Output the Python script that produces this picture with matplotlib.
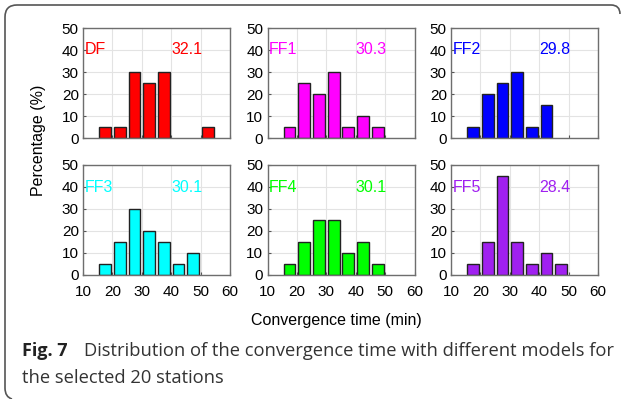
import matplotlib
matplotlib.use("Agg")
import matplotlib.pyplot as plt
from matplotlib.patches import PathPatch
from matplotlib.path import Path
import numpy as np

plt.rcParams["font.family"] = ["Liberation Sans", "DejaVu Sans"]

# ---- data ----
bin_centers = [17.5, 22.5, 27.5, 32.5, 37.5, 42.5, 47.5, 52.5]
models = ["DF", "FF1", "FF2", "FF3", "FF4", "FF5"]
mean_times = ["32.1", "30.3", "29.8", "30.1", "30.1", "28.4"]
df_pct = [5, 5, 30, 25, 30, 0, 0, 5]
ff1_pct = [5, 25, 20, 30, 5, 10, 5, 0]
ff2_pct = [5, 20, 25, 30, 5, 15, 0, 0]
ff3_pct = [5, 15, 30, 20, 15, 5, 10, 0]
ff4_pct = [5, 15, 25, 25, 10, 15, 5, 0]
ff5_pct = [5, 15, 45, 15, 5, 10, 5, 0]
colors = ["#FF0000", "#FF00FF", "#0000FF", "#00FFFF", "#00FF00", "#A020F0"]
x_ticks = [10, 20, 30, 40, 50, 60]
y_ticks = [0, 10, 20, 30, 40, 50]

all_pct = [df_pct, ff1_pct, ff2_pct, ff3_pct, ff4_pct, ff5_pct]

fig = plt.figure(figsize=(6.24, 3.99), dpi=100)
W, H = 624, 399

lefts = [83, 267.5, 451]
width_px = 147
tops = [28, 165]
height_px = 110

for i, (name, mt, pct, col) in enumerate(zip(models, mean_times, all_pct, colors)):
    r, c = divmod(i, 3)
    ax = fig.add_axes([lefts[c] / W, 1 - (tops[r] + height_px) / H, width_px / W, height_px / H])
    ax.set_xlim(10, 60)
    ax.set_ylim(0, 50)
    ax.set_axisbelow(True)
    ax.grid(True, color="#E3E3E3", linewidth=0.8)
    xs = [x for x, v in zip(bin_centers, pct) if v > 0]
    vs = [v for v in pct if v > 0]
    ax.bar(xs, vs, width=4, color=col, edgecolor="#222222", linewidth=1.0)
    ax.set_xticks(x_ticks)
    ax.set_yticks(y_ticks)
    ax.tick_params(direction="in", length=2, color="#555555", labelsize=11)
    ax.tick_params(axis="y", pad=3)
    ax.tick_params(axis="x", pad=7)
    if r == 0:
        ax.set_xticklabels([])
    for s in ax.spines.values():
        s.set_color("#6E6E6E")
        s.set_linewidth(1.0)
    ax.text(10.5, 40, name, color=col, fontsize=11.5, va="center", ha="left")
    ax.text(40, 40, mt, color=col, fontsize=11.5, va="center", ha="left")

fig.text(38 / W, 1 - 140 / H, "Percentage (%)", rotation=90, ha="center", va="center",
         fontsize=11.5)
fig.text(336 / W, 1 - 321 / H, "Convergence time (min)", ha="center", va="center",
         fontsize=11.5)

# caption
fig.text(22 / W, 1 - 351 / H, "Fig. 7", fontsize=13, ha="left", va="center",
         family="Open Sans", weight="bold", color="#222222")
fig.text(84 / W, 1 - 351 / H, "Distribution of the convergence time with different models for",
         fontsize=13.2, ha="left", va="center", family="Open Sans", color="#333333")
fig.text(22 / W, 1 - 378 / H, "the selected 20 stations",
         fontsize=13.2, ha="left", va="center", family="Open Sans", color="#333333")

# rounded frame (open at right/bottom)
rad = 12
verts = [
    (620, 14), (620, 5), (611, 5),
    (5 + rad, 5), (5, 5), (5, 5 + rad),
    (5, 388), (5, 397), (12, 399),
]
codes = [Path.MOVETO, Path.CURVE3, Path.CURVE3,
         Path.LINETO, Path.CURVE3, Path.CURVE3,
         Path.LINETO, Path.CURVE3, Path.CURVE3]
verts = [(x / W, 1 - y / H) for x, y in verts]
patch = PathPatch(Path(verts, codes), transform=fig.transFigure, fill=False,
                  edgecolor="#555555", linewidth=1.2)
fig.add_artist(patch)

fig.savefig("out.png", dpi=100)
